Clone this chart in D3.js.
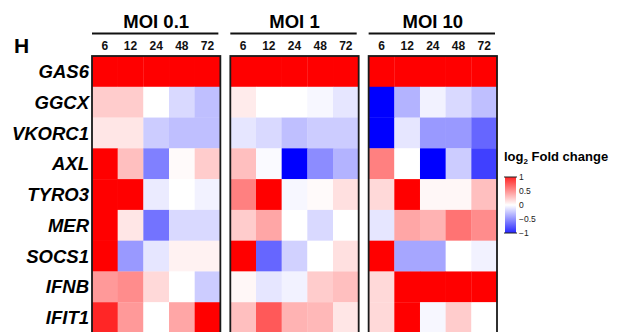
<!DOCTYPE html>
<html><head><meta charset="utf-8">
<script src="https://cdn.jsdelivr.net/npm/d3@7"></script>
<style>
html,body{margin:0;padding:0;background:#fff;}
svg{display:block;font-family:"Liberation Sans",Arial,Helvetica,sans-serif;}
</style></head>
<body><svg id="chart" width="618" height="332"></svg>
<script>
const panels = ["MOI 0.1", "MOI 1", "MOI 10"];
const hours = ["6", "12", "24", "48", "72"];
const genes = ["GAS6", "GGCX", "VKORC1", "AXL", "TYRO3", "MER", "SOCS1", "IFNB", "IFIT1"];
const legendTicks = [1, 0.5, 0, -0.5, -1];

// log2 fold change, rows = genes, cols = hours
const moi01 = [
  [1, 1, 1, 1, 1],
  [0.2, 0.2, 0.0, -0.15, -0.25],
  [0.1, 0.1, -0.2, -0.25, -0.25],
  [1, 0.25, -0.5, 0.02, 0.2],
  [1, 1, -0.08, 0.0, -0.05],
  [1, 0.1, -0.55, -0.15, -0.15],
  [1, -0.4, -0.1, 0.05, 0.05],
  [0.4, 0.45, 0.15, 0.0, -0.2],
  [0.85, 0.4, 0.0, 0.35, 1]
];
const moi1 = [
  [1, 1, 1, 1, 1],
  [0.08, 0.0, 0.0, -0.03, -0.1],
  [-0.1, -0.15, -0.25, -0.2, -0.2],
  [0.25, -0.02, -1, -0.45, -0.3],
  [0.5, 1, -0.03, 0.02, 0.12],
  [0.2, 0.35, 0.0, -0.15, 0.0],
  [1, -0.6, -0.18, 0.0, 0.12],
  [0.03, -0.1, -0.05, 0.2, 0.25],
  [0.25, 0.65, 0.3, 0.28, 0.1]
];
const moi10 = [
  [1, 1, 1, 1, 1],
  [-1, -0.3, -0.05, -0.15, -0.25],
  [-1, -0.1, -0.4, -0.4, -0.6],
  [0.5, 0.0, -1, -0.2, -0.75],
  [0.15, 1, 0.03, 0.03, 0.25],
  [-0.1, 0.35, 0.3, 0.55, 0.45],
  [1, -0.35, -0.35, 0.0, -0.05],
  [0.15, 1, 1, 1, 1],
  [0.15, 1, -0.03, 0.2, 0.0]
];
const panelData = [moi01, moi1, moi10];

const svg = d3.select("#chart");
const color = d3.scaleLinear().domain([-1, 0, 1]).range(["#0000ff", "#ffffff", "#ff0000"]).clamp(true);

const px = d3.scaleBand().domain(panels).range([92, 497]).paddingInner(0.072);
const y = d3.scaleBand().domain(genes).range([56, 333]);

// Panel letter
svg.append("text").attr("x", 14).attr("y", 53).attr("font-size", 21).attr("font-weight", "bold").text("H");

// Row labels
svg.append("g").selectAll("text").data(genes).join("text")
  .attr("x", 89).attr("y", d => y(d) + y.bandwidth() / 2)
  .attr("dy", "0.36em").attr("text-anchor", "end")
  .attr("font-size", 18.5).attr("font-weight", "bold").attr("font-style", "italic")
  .text(d => d);

panels.forEach((p, i) => {
  const x0 = px(p), w = px.bandwidth();
  const x = d3.scaleBand().domain(hours).range([x0, x0 + w]);
  const g = svg.append("g");
  const cells = [];
  genes.forEach((gname, r) => hours.forEach((h, c) => cells.push({ g: gname, h, v: panelData[i][r][c] })));
  g.selectAll("rect.cell").data(cells).join("rect")
    .attr("class", "cell")
    .attr("x", d => x(d.h)).attr("y", d => y(d.g))
    .attr("width", x.bandwidth() + 0.3).attr("height", y.bandwidth() + 0.3)
    .attr("fill", d => color(d.v));
  // border
  g.append("rect").attr("x", x0).attr("y", 56).attr("width", w).attr("height", 278)
    .attr("fill", "none").attr("stroke", "#1a1a1a").attr("stroke-width", 1.8);
  // header
  g.append("text").attr("x", x0 + w / 2).attr("y", 28).attr("text-anchor", "middle")
    .attr("font-size", 18.5).attr("font-weight", "bold").text(p);
  g.append("line").attr("x1", x0).attr("x2", x0 + w - 2).attr("y1", 33.5).attr("y2", 33.5)
    .attr("stroke", "#111").attr("stroke-width", 2);
  // hour axis
  const ax = d3.axisTop(x).tickSize(0).tickPadding(0);
  const axg = g.append("g").attr("transform", "translate(0,50)").call(ax);
  axg.select(".domain").remove();
  axg.selectAll("text").attr("font-size", 12).attr("font-weight", "bold")
    .attr("font-family", "'Liberation Sans',Arial,sans-serif").attr("fill", "#111").attr("dy", 0);
});

// Legend
const ly = d3.scaleLinear().domain([1, -1]).range([177, 233]);
const defs = svg.append("defs");
const grad = defs.append("linearGradient").attr("id", "lg").attr("x1", 0).attr("x2", 0).attr("y1", 0).attr("y2", 1);
legendTicks.forEach(t => grad.append("stop").attr("offset", (ly(t) - 177) / 56).attr("stop-color", color(t * 0.85)));
svg.append("text").attr("x", 504).attr("y", 161).attr("font-size", 13).attr("font-weight", "bold")
  .call(t => {
    t.append("tspan").text("log");
    t.append("tspan").attr("font-size", 8).attr("dy", 3).text("2");
    t.append("tspan").attr("dy", -3).text(" Fold change");
  });
svg.append("rect").attr("x", 505).attr("y", 177).attr("width", 11).attr("height", 56).attr("fill", "url(#lg)");
svg.append("g").selectAll("line").data([1, -1]).join("line")
  .attr("x1", 504).attr("x2", 517).attr("y1", d => ly(d)).attr("y2", d => ly(d))
  .attr("stroke", "#222").attr("stroke-width", 1);
svg.append("g").selectAll("text").data(legendTicks).join("text")
  .attr("x", 519).attr("y", d => ly(d)).attr("dy", "0.35em")
  .attr("font-size", 8.5).attr("fill", "#222")
  .text(d => d < 0 ? "\u2212" + Math.abs(d) : d);
</script></body></html>
